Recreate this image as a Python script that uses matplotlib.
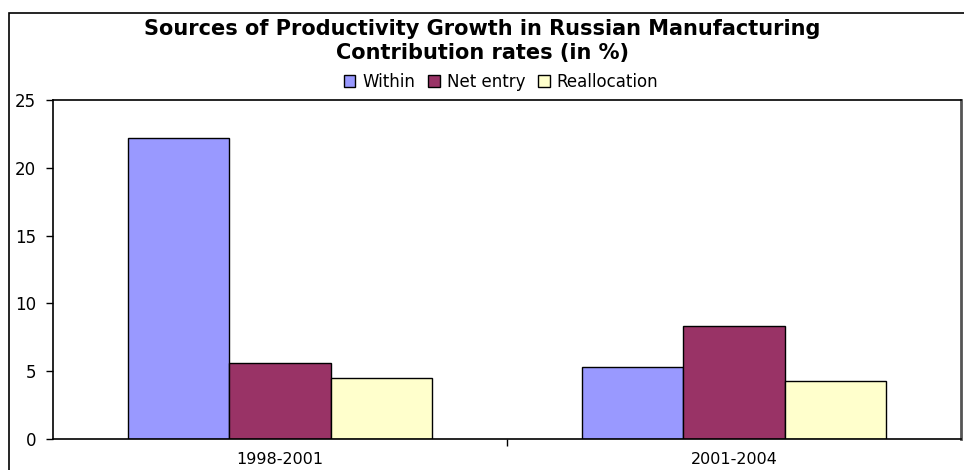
import numpy as np
import matplotlib.pyplot as plt
from matplotlib.patches import Rectangle

plt.rcParams['font.family'] = ['DejaVu Sans']

# contribution rates, %
periods = ['1998-2001', '2001-2004']
within = [22.2, 5.3]
net_entry = [5.6, 8.3]
reallocation = [4.5, 4.3]

series = [('Within', within, '#9999ff'),
          ('Net entry', net_entry, '#993366'),
          ('Reallocation', reallocation, '#ffffcc')]

W, H = 964, 470
fig = plt.figure(figsize=(W / 100, H / 100), dpi=100)

# outer chart frame
fig.patches.append(Rectangle((9 / W, -0.05), 1.1, (H - 13) / H + 0.05,
                             transform=fig.transFigure, fill=False,
                             edgecolor='black', linewidth=1.2))

ax = fig.add_axes([53 / W, (H - 439) / H, (961 - 53) / W, (439 - 100) / H])

x = np.arange(len(periods))
width = 0.2236
for i, (name, vals, col) in enumerate(series):
    ax.bar(x + (i - 1) * width, vals, width, color=col, edgecolor='black',
           linewidth=1.0, label=name)

ax.set_xlim(-0.5, 1.5)
ax.set_ylim(0, 25)
ax.set_yticks(range(0, 26, 5))
ax.set_xticks([0.5])
ax.set_xticklabels([''])
ax.set_xticks(x, minor=True)
ax.set_xticklabels(periods, minor=True)
ax.tick_params(axis='x', which='minor', length=0, pad=9, labelsize=11.5)
ax.tick_params(axis='x', which='major', length=5, width=1)
ax.tick_params(axis='y', length=5, width=1, labelsize=12, pad=7)
for s in ax.spines.values():
    s.set_linewidth(1.2)
ax.spines['right'].set_color('#555555')
ax.spines['right'].set_linewidth(2)

fig.text(0.5, 1 - 29 / H, 'Sources of Productivity Growth in Russian Manufacturing',
         ha='center', va='center', fontsize=15, fontweight='bold')
fig.text(0.5, 1 - 53 / H, 'Contribution rates (in %)',
         ha='center', va='center', fontsize=15, fontweight='bold')

fig.legend(loc='center', bbox_to_anchor=(501 / W, 1 - 82 / H), ncol=3,
           frameon=False, fontsize=12, handlelength=0.7, handleheight=0.7,
           handletextpad=0.4, columnspacing=0.8, borderpad=0)

fig.savefig('out.png', dpi=100)
